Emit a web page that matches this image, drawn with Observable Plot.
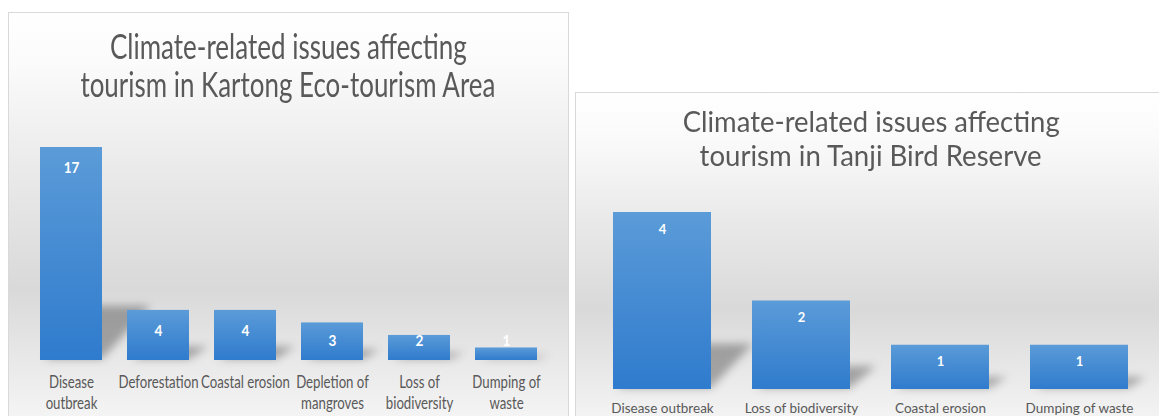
<!DOCTYPE html>
<html>
<head>
<meta charset="utf-8">
<script src="https://cdn.jsdelivr.net/npm/d3@7"></script>
<script src="https://cdn.jsdelivr.net/npm/@observablehq/plot@0.6"></script>
<style>
  html, body { margin: 0; padding: 0; }
  body { width: 1159px; height: 416px; overflow: hidden; background: #ffffff; font-family: Lato, "Open Sans", sans-serif; position: relative; }
  .panel { position: absolute; border: 1px solid #d9d9d9; box-sizing: border-box; }
  #panelL { left: 8px; top: 12px; width: 561px; height: 420px;
    background: linear-gradient(to bottom, #ffffff 0%, #fbfbfb 12%, #ececec 34%, #d9d9d9 66%, #ebebeb 86%, #f7f7f7 100%); }
  #panelR { left: 575px; top: 92px; width: 600px; height: 340px;
    background: linear-gradient(to bottom, #ffffff 0%, #fafafa 14%, #e9e9e9 38%, #d9d9d9 64%, #ebebeb 86%, #f7f7f7 100%); }
  .chart { position: absolute; }
  #chartL { left: 8px; top: 12px; }
  #chartR { left: 575px; top: 92px; }
  .tl { position: absolute; width: 800px; text-align: center; color: #595959; font-weight: 400; white-space: nowrap; line-height: 1; font-family: Lato, sans-serif; }
  .tl span { display: inline-block; transform-origin: 50% 50%; }
</style>
</head>
<body>
<div class="panel" id="panelL"></div>
<div class="panel" id="panelR"></div>
<div class="chart" id="chartL"></div>
<div class="chart" id="chartR"></div>
<script>
// ---- data ----
const kartongTitle = ["Climate-related issues affecting", "tourism in Kartong Eco-tourism Area"];
const kartongIssues = ["Disease outbreak", "Deforestation", "Coastal erosion", "Depletion of mangroves", "Loss of biodiversity", "Dumping of waste"];
const kartongCounts = [17, 4, 4, 3, 2, 1];
const kartongTickLabels = ["Disease\noutbreak", "Deforestation", "Coastal erosion", "Depletion of\nmangroves", "Loss of\nbiodiversity", "Dumping of\nwaste"];

const tanjiTitle = ["Climate-related issues affecting", "tourism in Tanji Bird Reserve"];
const tanjiIssues = ["Disease outbreak", "Loss of biodiversity", "Coastal erosion", "Dumping of waste"];
const tanjiCounts = [4, 2, 1, 1];

// ---- helpers ----
function decorate(svg, gradId, filterId) {
  const s = d3.select(svg);
  const defs = s.insert("defs", ":first-child");
  const g = defs.append("linearGradient").attr("id", gradId)
    .attr("x1", 0).attr("y1", 0).attr("x2", 0).attr("y2", 1);
  g.append("stop").attr("offset", "0%").attr("stop-color", "#5b9bd8");
  g.append("stop").attr("offset", "100%").attr("stop-color", "#2f7bcd");
  defs.append("filter").attr("id", filterId)
    .attr("x", "-50%").attr("y", "-50%").attr("width", "200%").attr("height", "200%")
    .append("feGaussianBlur").attr("stdDeviation", 4);
  const barG = s.select('g[aria-label="bar"]');
  const shadowG = s.insert("g", 'g[aria-label="bar"]').attr("filter", `url(#${filterId})`);
  barG.selectAll("rect").each(function () {
    const x = +this.getAttribute("x"), y = +this.getAttribute("y");
    const w = +this.getAttribute("width"), h = +this.getAttribute("height");
    const base = y + h - 1;
    const t = 0.25 * h, sh = 0.18 * h + 10;
    const pts = [[x + 4, base], [x + w, base], [x + w + sh, base - t], [x + sh + 4, base - t]];
    shadowG.append("polygon").attr("points", pts.map(p => p.join(",")).join(" "))
      .attr("fill", "rgba(0,0,0,0.30)");
  });
}
function squish(svg, sel, k) {
  d3.select(svg).selectAll(sel).each(function () {
    const tr = this.getAttribute("transform");
    if (tr && tr.includes("translate")) {
      this.setAttribute("transform", tr + ` scale(${k},1)`);
    } else {
      const x = +(this.getAttribute("x") || 0);
      this.setAttribute("transform", `translate(${x},0) scale(${k},1) translate(${-x},0)`);
    }
  });
}

// ---- left chart: Kartong ----
const kData = kartongIssues.map((issue, i) => ({issue, count: kartongCounts[i]}));
const left = Plot.plot({
  width: 560, height: 404,
  marginLeft: 17, marginRight: 17, marginTop: 135, marginBottom: 56,
  style: {background: "transparent", fontFamily: "Lato, sans-serif", overflow: "visible"},
  x: {domain: kartongIssues, paddingInner: 0.29, paddingOuter: 0.145, label: null, axis: null},
  y: {domain: [0, 17], axis: null},
  marks: [
    Plot.barY(kData, {x: "issue", y: "count", fill: "url(#gradL)"}),
    Plot.text(kData, {x: "issue", y: d => Math.max(d.count, 3.2), dy: 20, text: d => String(d.count),
      fill: "white", fontWeight: "bold", fontSize: 16}),
    Plot.axisX({tickSize: 0, tickPadding: 12, fontSize: 16.5, lineHeight: 1.3, fill: "#595959", label: null,
      tickFormat: d => kartongTickLabels[kartongIssues.indexOf(d)]})
  ]
});
document.getElementById("chartL").appendChild(left);
decorate(left, "gradL", "blurL");
squish(left, 'g[aria-label="x-axis tick label"] text', 0.8);
squish(left, 'g[aria-label="text"] text', 0.85);

// ---- right chart: Tanji ----
const tData = tanjiIssues.map((issue, i) => ({issue, count: tanjiCounts[i]}));
const right = Plot.plot({
  width: 584, height: 324,
  marginLeft: 17.5, marginRight: 10.5, marginTop: 120, marginBottom: 27,
  style: {background: "transparent", fontFamily: "Lato, sans-serif", overflow: "visible"},
  x: {domain: tanjiIssues, paddingInner: 0.295, paddingOuter: 0.1475, label: null, axis: null},
  y: {domain: [0, 4], axis: null},
  marks: [
    Plot.barY(tData, {x: "issue", y: "count", fill: "url(#gradR)"}),
    Plot.text(tData, {x: "issue", y: "count", dy: 17, text: d => String(d.count),
      fill: "white", fontWeight: "bold", fontSize: 13}),
    Plot.axisX({tickSize: 0, tickPadding: 14, fontSize: 13.5, fill: "#595959", label: null})
  ]
});
document.getElementById("chartR").appendChild(right);
decorate(right, "gradR", "blurR");

// ---- titles ----
const titleLayout = [
  {text: kartongTitle[0], cx: 288.5, baseline: 59, size: 34, width: 357},
  {text: kartongTitle[1], cx: 287.5, baseline: 97, size: 34, width: 415},
  {text: tanjiTitle[0], cx: 871.5, baseline: 132, size: 28, width: 377},
  {text: tanjiTitle[1], cx: 871, baseline: 166, size: 28, width: 342}
];
for (const t of titleLayout) {
  const div = document.createElement("div");
  div.className = "tl";
  div.style.left = (t.cx - 400) + "px";
  div.style.top = (t.baseline - 0.887 * t.size) + "px";
  div.style.fontSize = t.size + "px";
  const span = document.createElement("span");
  span.textContent = t.text;
  div.appendChild(span);
  document.body.appendChild(div);
  const w = span.getBoundingClientRect().width;
  span.style.transform = `scaleX(${t.width / w})`;
}
</script>
</body>
</html>
